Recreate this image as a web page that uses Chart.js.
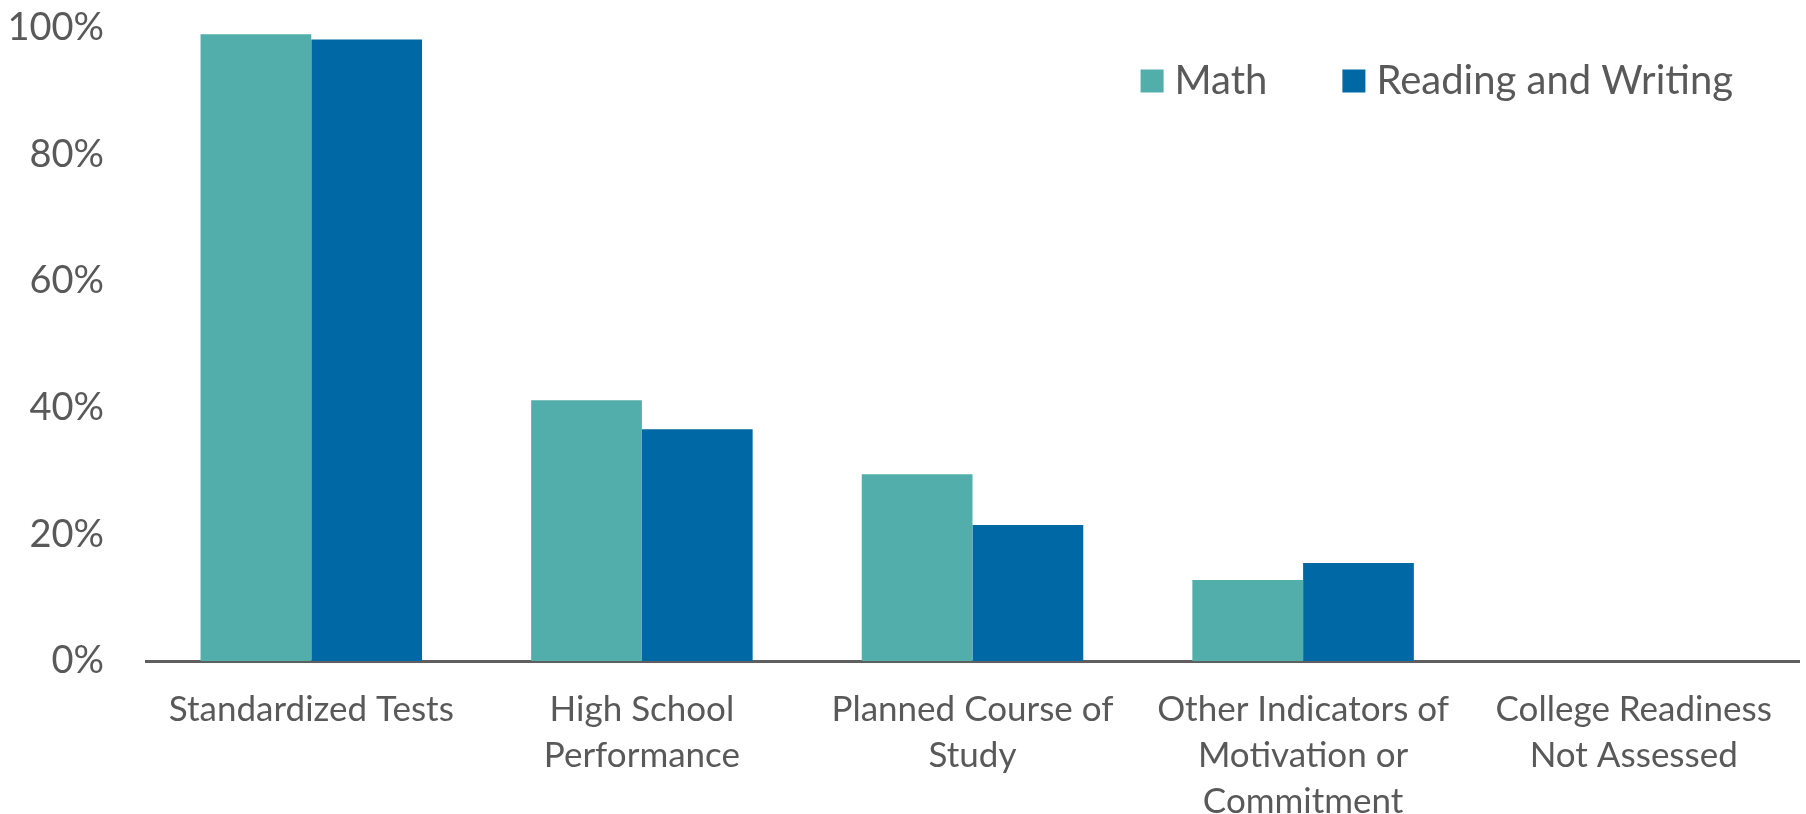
<!DOCTYPE html>
<html>
<head>
<meta charset="utf-8">
<script src="https://cdn.jsdelivr.net/npm/chart.js@4"></script>
<style>
  html, body { margin: 0; padding: 0; background: #fff; }
  #wrap { width: 1806px; height: 814px; }
</style>
</head>
<body>
<div id="wrap"><canvas id="chart" width="1806" height="814"></canvas></div>
<script>
const categories = [
    'Standardized Tests',
    ['High School', 'Performance'],
    ['Planned Course of', 'Study'],
    ['Other Indicators of', 'Motivation or', 'Commitment'],
    ['College Readiness', 'Not Assessed']
];
const mathValues = [99.0, 41.2, 29.5, 12.8, 0];
const readingValues = [98.2, 36.6, 21.5, 15.5, 0];
const yTicks = [0, 20, 40, 60, 80, 100];

const textGray = '#595959';
const fontFamily = 'Lato, "Noto Sans", sans-serif';

// legend sits inside the plot, top right, without taking layout space
const insideLegend = {
    id: 'insideLegend',
    afterDraw(chart) {
        const { ctx, chartArea } = chart;
        const box = 23, textGap = 11, itemGap = 75;
        const midY = chartArea.top + 53;
        let cursor = chartArea.right - 66;
        ctx.save();
        ctx.font = `40px ${fontFamily}`;
        ctx.textBaseline = 'middle';
        ctx.textAlign = 'left';
        const sets = chart.data.datasets.slice().reverse();
        sets.forEach(ds => {
            const w = ctx.measureText(ds.label).width;
            const textX = cursor - w;
            ctx.fillStyle = textGray;
            ctx.fillText(ds.label, textX, midY);
            const boxX = textX - textGap - box;
            ctx.fillStyle = ds.backgroundColor;
            ctx.fillRect(boxX, midY - box / 2, box, box);
            cursor = boxX - itemGap;
        });
        ctx.restore();
    }
};

const ctx = document.getElementById('chart').getContext('2d');
new Chart(ctx, {
    type: 'bar',
    data: {
        labels: categories,
        datasets: [
            { label: 'Math', data: mathValues, backgroundColor: '#52AEAA', borderWidth: 0 },
            { label: 'Reading and Writing', data: readingValues, backgroundColor: '#0069A5', borderWidth: 0 }
        ]
    },
    options: {
        responsive: false,
        animation: false,
        devicePixelRatio: 1,
        layout: { padding: { top: 28, right: 7, left: 0, bottom: 0 } },
        datasets: { bar: { categoryPercentage: 0.67, barPercentage: 1.0 } },
        plugins: {
            tooltip: { enabled: false },
            legend: { display: false }
        },
        scales: {
            x: {
                grid: { display: false, drawTicks: false },
                border: { display: true, color: '#5f5f5f', width: 3 },
                ticks: {
                    color: textGray,
                    font: { family: fontFamily, size: 35, lineHeight: '46px' },
                    padding: 26,
                    maxRotation: 0,
                    autoSkip: false
                },
                afterFit(scale) { scale.height = 153; }
            },
            y: {
                min: 0,
                max: 100,
                grid: { display: false, drawTicks: false },
                border: { display: false },
                afterBuildTicks(scale) { scale.ticks = yTicks.map(v => ({ value: v })); },
                ticks: {
                    color: textGray,
                    font: { family: fontFamily, size: 38 },
                    padding: 42,
                    callback: v => v + '%'
                },
                afterFit(scale) {
                    scale.width = 146;
                    scale.paddingTop = 0;
                    scale.paddingBottom = 0;
                }
            }
        }
    },
    plugins: [insideLegend]
});
</script>
</body>
</html>
